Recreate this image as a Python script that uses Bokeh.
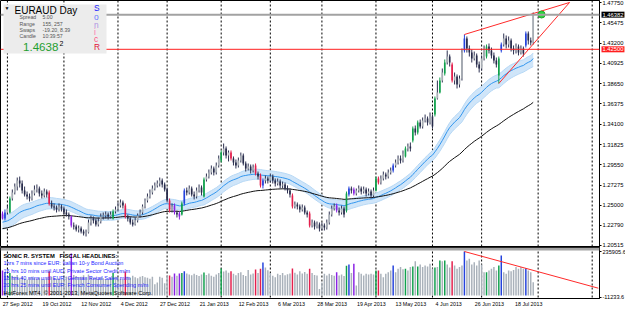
import pandas as pd
from bokeh.plotting import figure
from bokeh.layouts import column
from bokeh.models import (Range1d, FixedTicker, PrintfTickFormatter, Span, Label,
                          BoxAnnotation)
from bokeh.embed import file_html
from bokeh.resources import INLINE

# ---------------- data (EURAUD daily) ----------------
first_day = "2012-09-27"

open_ = [
    1.2410, 1.2354, 1.2421, 1.2421, 1.2578, 1.2645, 1.2712, 1.2780, 1.2746, 1.2668,
    1.2623, 1.2600, 1.2578, 1.2634, 1.2679, 1.2690, 1.2634, 1.2612, 1.2656, 1.2645,
    1.2522, 1.2488, 1.2477, 1.2455, 1.2488, 1.2466, 1.2421, 1.2398, 1.2376, 1.2275,
    1.2264, 1.2230, 1.2242, 1.2208, 1.2186, 1.2197, 1.2309, 1.2354, 1.2331, 1.2286,
    1.2320, 1.2376, 1.2387, 1.2398, 1.2376, 1.2354, 1.2432, 1.2455, 1.2499, 1.2533,
    1.2499, 1.2376, 1.2354, 1.2309, 1.2286, 1.2331, 1.2387, 1.2421, 1.2488, 1.2555,
    1.2600, 1.2645, 1.2690, 1.2724, 1.2746, 1.2780, 1.2735, 1.2679, 1.2555, 1.2443,
    1.2499, 1.2421, 1.2410, 1.2398, 1.2522, 1.2668, 1.2645, 1.2690, 1.2623, 1.2600,
    1.2668, 1.2701, 1.2600, 1.2791, 1.2824, 1.2869, 1.2914, 1.2869, 1.2948, 1.3004,
    1.3093, 1.3138, 1.3060, 1.3093, 1.3026, 1.2981, 1.2948, 1.3004, 1.3060, 1.2970,
    1.2914, 1.2936, 1.2892, 1.2948, 1.2858, 1.2836, 1.2724, 1.2780, 1.2802, 1.2780,
    1.2824, 1.2780, 1.2746, 1.2768, 1.2724, 1.2735, 1.2690, 1.2668, 1.2612, 1.2488,
    1.2511, 1.2488, 1.2455, 1.2477, 1.2421, 1.2410, 1.2275, 1.2309, 1.2264, 1.2286,
    1.2242, 1.2275, 1.2253, 1.2309, 1.2398, 1.2466, 1.2499, 1.2443, 1.2421, 1.2466,
    1.2443, 1.2623, 1.2690, 1.2679, 1.2634, 1.2668, 1.2690, 1.2656, 1.2679, 1.2634,
    1.2656, 1.2612, 1.2668, 1.2802, 1.2757, 1.2802, 1.2847, 1.2824, 1.2869, 1.2892,
    1.2948, 1.2981, 1.3026, 1.3004, 1.3049, 1.3138, 1.3161, 1.3228, 1.3362, 1.3318,
    1.3430, 1.3385, 1.3452, 1.3474, 1.3430, 1.3497, 1.3519, 1.3699, 1.3766, 1.3900,
    1.3979, 1.4102, 1.4169, 1.4080, 1.3900, 1.3945, 1.3856, 1.3923, 1.4237, 1.4371,
    1.4259, 1.4214, 1.4147, 1.4181, 1.4080, 1.4035, 1.4147, 1.4169, 1.4281, 1.4237,
    1.4181, 1.4125, 1.3956, 1.4237, 1.4304, 1.4371, 1.4304, 1.4349, 1.4259, 1.4237,
    1.4281, 1.4214, 1.4259, 1.4293, 1.4427, 1.4349, 1.4326,
]
high = [
    1.2432, 1.2455, 1.2499, 1.2600, 1.2679, 1.2746, 1.2813, 1.2824, 1.2780, 1.2712,
    1.2656, 1.2634, 1.2668, 1.2724, 1.2735, 1.2712, 1.2668, 1.2690, 1.2679, 1.2668,
    1.2555, 1.2522, 1.2499, 1.2522, 1.2511, 1.2488, 1.2455, 1.2421, 1.2387, 1.2309,
    1.2286, 1.2275, 1.2264, 1.2230, 1.2230, 1.2342, 1.2387, 1.2376, 1.2354, 1.2365,
    1.2410, 1.2421, 1.2432, 1.2421, 1.2432, 1.2455, 1.2488, 1.2533, 1.2567, 1.2555,
    1.2522, 1.2398, 1.2376, 1.2342, 1.2365, 1.2410, 1.2455, 1.2511, 1.2578, 1.2634,
    1.2679, 1.2724, 1.2757, 1.2780, 1.2813, 1.2802, 1.2757, 1.2701, 1.2578, 1.2522,
    1.2522, 1.2443, 1.2432, 1.2544, 1.2690, 1.2701, 1.2724, 1.2712, 1.2656, 1.2701,
    1.2735, 1.2724, 1.2813, 1.2858, 1.2903, 1.2948, 1.2936, 1.2981, 1.3060, 1.3116,
    1.3194, 1.3161, 1.3116, 1.3116, 1.3049, 1.3015, 1.3037, 1.3093, 1.3082, 1.2993,
    1.2970, 1.2959, 1.2959, 1.2970, 1.2880, 1.2858, 1.2802, 1.2836, 1.2824, 1.2858,
    1.2847, 1.2802, 1.2802, 1.2791, 1.2768, 1.2757, 1.2724, 1.2690, 1.2634, 1.2544,
    1.2533, 1.2511, 1.2511, 1.2499, 1.2443, 1.2432, 1.2342, 1.2331, 1.2320, 1.2309,
    1.2309, 1.2298, 1.2342, 1.2432, 1.2499, 1.2522, 1.2522, 1.2477, 1.2499, 1.2488,
    1.2656, 1.2712, 1.2712, 1.2701, 1.2690, 1.2724, 1.2712, 1.2712, 1.2701, 1.2690,
    1.2679, 1.2701, 1.2824, 1.2824, 1.2836, 1.2880, 1.2869, 1.2903, 1.2925, 1.2970,
    1.3015, 1.3060, 1.3060, 1.3116, 1.3161, 1.3194, 1.3206, 1.3385, 1.3396, 1.3452,
    1.3463, 1.3486, 1.3519, 1.3497, 1.3542, 1.3519, 1.3721, 1.3900, 1.3934, 1.4035,
    1.4136, 1.4237, 1.4192, 1.4102, 1.3990, 1.3968, 1.3956, 1.4259, 1.4416, 1.4394,
    1.4293, 1.4248, 1.4225, 1.4203, 1.4113, 1.4181, 1.4293, 1.4304, 1.4315, 1.4270,
    1.4214, 1.4158, 1.4169, 1.4326, 1.4427, 1.4405, 1.4394, 1.4371, 1.4293, 1.4315,
    1.4304, 1.4293, 1.4281, 1.4450, 1.4450, 1.4382, 1.4663,
]
low = [
    1.2342, 1.2331, 1.2398, 1.2410, 1.2555, 1.2623, 1.2668, 1.2701, 1.2634, 1.2600,
    1.2567, 1.2544, 1.2555, 1.2612, 1.2645, 1.2600, 1.2578, 1.2589, 1.2589, 1.2499,
    1.2466, 1.2443, 1.2421, 1.2432, 1.2432, 1.2398, 1.2376, 1.2342, 1.2253, 1.2230,
    1.2208, 1.2197, 1.2186, 1.2163, 1.2152, 1.2186, 1.2275, 1.2298, 1.2264, 1.2264,
    1.2298, 1.2342, 1.2354, 1.2342, 1.2354, 1.2342, 1.2410, 1.2432, 1.2477, 1.2466,
    1.2354, 1.2320, 1.2286, 1.2264, 1.2275, 1.2309, 1.2365, 1.2398, 1.2466, 1.2533,
    1.2578, 1.2623, 1.2668, 1.2701, 1.2712, 1.2701, 1.2656, 1.2533, 1.2421, 1.2421,
    1.2398, 1.2365, 1.2342, 1.2387, 1.2499, 1.2612, 1.2623, 1.2600, 1.2567, 1.2578,
    1.2645, 1.2612, 1.2589, 1.2768, 1.2802, 1.2847, 1.2836, 1.2847, 1.2925, 1.2981,
    1.3060, 1.3026, 1.2993, 1.3004, 1.2948, 1.2914, 1.2925, 1.2981, 1.2948, 1.2880,
    1.2892, 1.2858, 1.2869, 1.2836, 1.2791, 1.2701, 1.2690, 1.2746, 1.2746, 1.2757,
    1.2746, 1.2712, 1.2724, 1.2690, 1.2690, 1.2668, 1.2634, 1.2589, 1.2466, 1.2466,
    1.2455, 1.2421, 1.2432, 1.2398, 1.2365, 1.2253, 1.2253, 1.2230, 1.2242, 1.2208,
    1.2219, 1.2219, 1.2230, 1.2286, 1.2376, 1.2443, 1.2421, 1.2387, 1.2398, 1.2365,
    1.2421, 1.2600, 1.2634, 1.2612, 1.2612, 1.2645, 1.2623, 1.2634, 1.2600, 1.2612,
    1.2578, 1.2589, 1.2656, 1.2735, 1.2735, 1.2780, 1.2791, 1.2802, 1.2847, 1.2869,
    1.2925, 1.2959, 1.2970, 1.2981, 1.3037, 1.3105, 1.3105, 1.3206, 1.3284, 1.3295,
    1.3362, 1.3362, 1.3430, 1.3396, 1.3407, 1.3362, 1.3497, 1.3687, 1.3755, 1.3878,
    1.3956, 1.4080, 1.4057, 1.3878, 1.3856, 1.3811, 1.3822, 1.3900, 1.4214, 1.4214,
    1.4169, 1.4102, 1.4125, 1.4046, 1.3990, 1.4012, 1.4125, 1.4147, 1.4203, 1.4147,
    1.4091, 1.4046, 1.3867, 1.4214, 1.4281, 1.4259, 1.4270, 1.4225, 1.4192, 1.4203,
    1.4181, 1.4192, 1.4169, 1.4270, 1.4304, 1.4293, 1.4304,
]
close = [
    1.2354, 1.2421, 1.2466, 1.2578, 1.2645, 1.2712, 1.2780, 1.2746, 1.2668, 1.2623,
    1.2600, 1.2578, 1.2634, 1.2679, 1.2690, 1.2634, 1.2612, 1.2656, 1.2623, 1.2522,
    1.2488, 1.2477, 1.2455, 1.2488, 1.2466, 1.2421, 1.2398, 1.2376, 1.2275, 1.2264,
    1.2230, 1.2242, 1.2208, 1.2186, 1.2197, 1.2309, 1.2354, 1.2331, 1.2286, 1.2320,
    1.2376, 1.2387, 1.2398, 1.2376, 1.2398, 1.2432, 1.2455, 1.2499, 1.2533, 1.2499,
    1.2376, 1.2354, 1.2309, 1.2286, 1.2331, 1.2387, 1.2421, 1.2488, 1.2555, 1.2600,
    1.2645, 1.2690, 1.2724, 1.2746, 1.2780, 1.2735, 1.2679, 1.2555, 1.2443, 1.2488,
    1.2421, 1.2398, 1.2376, 1.2522, 1.2668, 1.2645, 1.2690, 1.2623, 1.2600, 1.2668,
    1.2701, 1.2645, 1.2791, 1.2824, 1.2869, 1.2914, 1.2869, 1.2948, 1.3026, 1.3093,
    1.3138, 1.3060, 1.3093, 1.3026, 1.2981, 1.2948, 1.3004, 1.3060, 1.2970, 1.2914,
    1.2936, 1.2892, 1.2925, 1.2858, 1.2824, 1.2724, 1.2780, 1.2802, 1.2780, 1.2824,
    1.2780, 1.2746, 1.2768, 1.2724, 1.2735, 1.2690, 1.2668, 1.2623, 1.2488, 1.2511,
    1.2488, 1.2455, 1.2477, 1.2421, 1.2398, 1.2275, 1.2309, 1.2264, 1.2286, 1.2242,
    1.2275, 1.2253, 1.2309, 1.2398, 1.2466, 1.2488, 1.2443, 1.2421, 1.2466, 1.2398,
    1.2634, 1.2690, 1.2668, 1.2634, 1.2668, 1.2690, 1.2656, 1.2679, 1.2634, 1.2656,
    1.2612, 1.2668, 1.2802, 1.2757, 1.2802, 1.2847, 1.2824, 1.2869, 1.2892, 1.2948,
    1.2981, 1.3026, 1.3004, 1.3082, 1.3138, 1.3161, 1.3138, 1.3362, 1.3318, 1.3430,
    1.3385, 1.3452, 1.3474, 1.3430, 1.3497, 1.3385, 1.3699, 1.3766, 1.3900, 1.3990,
    1.4102, 1.4169, 1.4102, 1.3900, 1.3945, 1.3856, 1.3923, 1.4214, 1.4371, 1.4259,
    1.4214, 1.4147, 1.4181, 1.4080, 1.4035, 1.4147, 1.4259, 1.4281, 1.4237, 1.4181,
    1.4125, 1.4080, 1.4147, 1.4304, 1.4371, 1.4304, 1.4349, 1.4259, 1.4237, 1.4281,
    1.4214, 1.4259, 1.4203, 1.4427, 1.4349, 1.4326, 1.46382,
]
# indicator-window histogram (thousands)
volume_k = [
    134, 125, 95, 120, 105, 100, 110, 95, 100, 90,
    85, 95, 100, 92, 88, 96, 90, 85, 92, 130,
    100, 95, 88, 92, 85, 98, 102, 96, 225, 110,
    104, 96, 100, 108, 95, 112, 100, 90, 94, 88,
    98, 92, 86, 90, 95, 120, 100, 96, 90, 85,
    128, 100, 95, 105, 98, 92, 100, 104, 98, 95,
    90, 100, 60, 70, 100, 95, 65, 105, 107, 100,
    118, 105, 118, 120, 130, 118, 112, 108, 116, 110,
    104, 112, 123, 110, 118, 105, 100, 112, 120, 145,
    128, 134, 122, 130, 116, 108, 120, 125, 110, 104,
    137, 112, 118, 139, 120, 143, 177, 150, 135, 120,
    105, 98, 116, 110, 120, 108, 114, 118, 145, 122,
    112, 130, 118, 126, 116, 143, 120, 110, 107, 35,
    70, 116, 107, 116, 110, 105, 125, 107, 112, 104,
    160, 166, 120, 170, 53, 125, 116, 107, 116, 112,
    116, 112, 134, 134, 116, 98, 116, 125, 134, 161,
    125, 143, 152, 140, 143, 134, 152, 155, 184, 155,
    166, 152, 161, 155, 170, 145, 150, 152, 188, 184,
    188, 166, 150, 184, 161, 143, 152, 161, 235.9056, 188,
    197, 166, 178, 161, 188, 166, 125, 125, 134, 143,
    152, 134, 161, 214, 125, 116, 134, 130, 137, 152,
    143, 152, 143, 146, 134, 125, 71,
]
# volume-spread colour class of marked bars (g climax up, r climax down, b/m rising volume)
vsa = {0: "m", 1: "b", 3: "g", 19: "r", 28: "m", 45: "g", 50: "r", 68: "r", 70: "m",
       72: "m", 73: "g", 74: "b", 82: "g", 89: "g", 93: "r", 103: "r", 105: "r",
       106: "b", 118: "r", 125: "r", 136: "m", 140: "g", 141: "b", 143: "m",
       152: "g", 153: "r", 159: "b", 164: "g", 167: "g", 169: "g", 176: "g",
       178: "g", 180: "g", 183: "r", 188: "b", 197: "g", 202: "g", 203: "b", 213: "b"}

y_ticks = [1.47750, 1.45475, 1.43200, 1.40925, 1.38650, 1.36375, 1.34100,
           1.31825, 1.29550, 1.27275, 1.25000, 1.22790, 1.20515]
vol_ticks = [235905.6, -11233.6]
bid_price = 1.46382
alert_price = 1.42500
ema34_seed = {"high": 1.2385, "close": 1.2310, "low": 1.2228}
ema89_seed = 1.2238
resistance_x, resistance_y = [188, 230.8], [1.4416, 1.4775]
support_x, support_y = [202, 230.8], [1.3867, 1.4775]
alert_dot_x, alert_dot_y = [219.4], [1.4640]
vol_trend_x, vol_trend_y = [188, 242.5], [235905.6, 38700]
headlines = ["1hrs 7 mins since EUR: Italian 10-y Bond Auction",
             "15 hrs 10 mins until AUD: Private Sector Credit m/m",
             "18 hrs 40 mins until EUR: German Retail Sales m/m",
             "20 hrs 25 mins until EUR: French Consumer Spending m/m"]

# ---------------- geometry helpers (pixel layout -> data coords) ----------------
BAR0_PX, BAR_PX = 2.0, 2.457
FRAME_W, MAIN_H, VOL_H = 599, 247, 51
FONT = "Liberation Sans"


def px2i(x):
    return (x - BAR0_PX) / BAR_PX


def py2p(y):
    return 1.4797 - 0.0011208 * y


def py2v(y):
    return 235905.6 - (y - 251) * 5373.0


n = min(map(len, [open_, high, low, close, volume_k]))
idx = list(range(n))
days = [d for d in pd.bdate_range(first_day, periods=320)
        if not ((d.month == 12 and d.day == 25) or (d.month == 1 and d.day == 1))]


def ema(vals, period, seed):
    a = 2.0 / (period + 1)
    out, prev = [], seed
    for v in vals[:n]:
        prev = a * v + (1 - a) * prev
        out.append(prev)
    return out


e_hi = ema(high, 34, ema34_seed["high"])
e_cl = ema(close, 34, ema34_seed["close"])
e_lo = ema(low, 34, ema34_seed["low"])
e_89 = ema(close, 89, ema89_seed)

VSA_COL = {"g": "#10a04c", "r": "#e41e4c", "b": "#2442dc", "m": "#8a22e4"}
BULL_BODY, BEAR_BODY, WICK, VOL_GRAY = "#a9afb5", "#272b4a", "#2e3252", "#a9b1ba"
body_col, wick_col, vol_col = [], [], []
for i in idx:
    code = vsa.get(i)
    if code:
        body_col.append(VSA_COL[code]); wick_col.append(VSA_COL[code]); vol_col.append(VSA_COL[code])
    else:
        body_col.append(BULL_BODY if close[i] >= open_[i] else BEAR_BODY)
        wick_col.append(WICK); vol_col.append(VOL_GRAY)
b_top = [max(open_[i], close[i]) for i in idx]
b_bot = [min(open_[i], close[i]) for i in idx]
b_bot = [b if t - b > 0.0004 else t - 0.0004 for t, b in zip(b_top, b_bot)]

xr = Range1d(px2i(0), px2i(FRAME_W))
month_starts = [i for i in range(1, len(days)) if days[i].month != days[i - 1].month
                and px2i(0) < i < px2i(FRAME_W)]


def style_common(fig):
    fig.grid.visible = False
    fig.outline_line_color = "black"
    fig.background_fill_color = "white"
    fig.border_fill_color = "white"
    for i in month_starts:
        fig.add_layout(Span(location=i, dimension="height", line_color="black",
                            line_dash="2 2", line_width=1, level="underlay"))


def style_yaxis(ax, ticks, fmt, size):
    ax.ticker = FixedTicker(ticks=ticks)
    ax.formatter = PrintfTickFormatter(format=fmt)
    ax.major_label_text_font = FONT
    ax.major_label_text_font_size = size
    ax.major_label_text_color = "black"
    ax.major_tick_out = 2
    ax.major_tick_in = 0
    ax.minor_tick_out = 0
    ax.minor_tick_in = 0
    ax.major_label_standoff = 1
    ax.axis_line_color = "black"
    ax.major_tick_line_color = "black"


def lab(fig, x, y, text, size, color="black", bold=False, conv=py2p, **kw):
    fig.add_layout(Label(x=px2i(x), y=conv(y), text=text, text_font=FONT,
                         text_font_size=f"{size}px", text_color=color,
                         text_font_style="bold" if bold else "normal",
                         text_baseline="middle", text_align="left", level="overlay", **kw))


# ---------------- main price panel ----------------
main = figure(frame_width=FRAME_W, frame_height=MAIN_H, x_range=xr,
              y_range=Range1d(py2p(MAIN_H), py2p(0)),
              y_axis_location="right", x_axis_location=None,
              toolbar_location=None, output_backend="svg",
              min_border_left=0, min_border_top=0, min_border_bottom=0, min_border_right=0)
style_common(main)
style_yaxis(main.yaxis[0], y_ticks, "%.5f", "5.8px")

main.varea(x=idx, y1=e_lo, y2=e_hi, fill_color="#cfe5f9", fill_alpha=1)
main.line(idx, e_hi, line_color="#b7d8f5", line_width=1)
main.line(idx, e_lo, line_color="#b7d8f5", line_width=1)
main.line(idx, e_cl, line_color="#3296ee", line_width=1)
main.line(idx, e_89, line_color="#111111", line_width=1)

main.segment(x0=idx, y0=low[:n], x1=idx, y1=high[:n], line_color=wick_col, line_width=1)
main.vbar(x=idx, width=0.66, top=b_top, bottom=b_bot, fill_color=body_col, line_color=None)

main.add_layout(Span(location=bid_price, dimension="width", line_color="#a2a2a2", line_width=2))
main.add_layout(Span(location=alert_price, dimension="width", line_color="#ff1f1f", line_width=1))
main.line(resistance_x, resistance_y, line_color="#ff2a2a", line_width=1)
main.line(support_x, support_y, line_color="#ff2a2a", line_width=1)
main.scatter(alert_dot_x, alert_dot_y, size=7, marker="circle", fill_color="#2fd43f",
             line_color="#1ea82c")

# price tags on the scale (side panel so they are not clipped to the frame)
tag_extra = {"padding": 1} if "padding" in Label.properties() else {}
for price, bg in [(bid_price, "black"), (alert_price, "#ff1f1f")]:
    main.add_layout(Label(x=px2i(601), y=price, text=f"{price:.5f}", text_font=FONT,
                          text_font_size="5.8px", text_color="white", background_fill_color=bg,
                          text_baseline="middle", text_align="left", **tag_extra), "right")

# info box
main.add_layout(BoxAnnotation(left=px2i(3), right=px2i(106), top=py2p(4), bottom=py2p(53),
                              fill_color="#ececec", fill_alpha=1, line_color=None, level="overlay"))
lab(main, 4, 7, "\u25bc", 5)
lab(main, 14, 9.5, "EURAUD", 10)
lab(main, 59, 9.5, "Day", 10)
for yy, k, v in [(16.5, "Spread", "5.00"), (23, "Range", "155, 257"),
                 (29.5, "Swaps", "-19.20, 8.39"), (35.5, "Candle", "10:39:57")]:
    lab(main, 19, yy, k, 5.2, "#555555")
    lab(main, 42, yy, v, 5.2, "#555555")
lab(main, 22.5, 46, "1.4638", 11.6, "#1f9f2f")
lab(main, 59, 43, "2", 7)
for yy, ch, col in [(7.5, "S", "#1a1aff"), (16, "o", "#6a7aff"), (24.5, "n", "#b092e2"),
                    (31.5, "i", "#ff70b0"), (38, "c", "#ff5084"), (46.5, "R", "#e0103a")]:
    lab(main, 93.5, yy, ch, 8.4, col)

# ---------------- indicator panel ----------------
vol = figure(frame_width=FRAME_W, frame_height=VOL_H, x_range=xr,
             y_range=Range1d(py2v(MAIN_H + VOL_H), py2v(MAIN_H)),
             y_axis_location="right", toolbar_location=None, output_backend="svg",
             min_border_left=0, min_border_top=0, min_border_bottom=0, min_border_right=0)
style_common(vol)
style_yaxis(vol.yaxis[0], vol_ticks, "%.1f", "5.6px")

vol.vbar(x=idx, width=0.6, top=[v * 1000 for v in volume_k[:n]], bottom=0,
         fill_color=vol_col, line_color=None)
vol.line(vol_trend_x, vol_trend_y, line_color="#ff2a2a", line_width=1)
vol.add_layout(BoxAnnotation(top=py2v(MAIN_H), bottom=py2v(MAIN_H + 3), fill_color="#a4a4a4",
                             fill_alpha=1, line_color=None, level="overlay"))

DATE_FS = 5.3
tick_pos, overrides = [], {}
for i in range(0, n, 16):
    txt = f"{days[i].day} {days[i].strftime('%b %Y')}"
    pos = round(i + len(txt) * 0.52 * DATE_FS / 2 / BAR_PX, 3)
    tick_pos.append(pos)
    overrides[pos] = txt
xa = vol.xaxis[0]
xa.ticker = FixedTicker(ticks=tick_pos)
xa.major_label_overrides = overrides
xa.major_label_text_font = FONT
xa.major_label_text_font_size = f"{DATE_FS}px"
xa.major_label_text_color = "black"
xa.major_tick_out = 0
xa.major_tick_in = 0
xa.minor_tick_out = 0
xa.minor_tick_in = 0
xa.major_label_standoff = 2
xa.axis_line_color = "black"

lab(vol, 3, 255, "SONIC R. SYSTEM", 5.8, bold=True, conv=py2v)
lab(vol, 59, 255, "FISCAL HEADLINES:", 5.8, bold=True, conv=py2v)
for yy, t in zip([262.5, 270, 277.3, 284.3], headlines):
    lab(vol, 3, yy, t, 5.5, "#1e1eff", conv=py2v)
lab(vol, 3, 292.5, "HotForex MT4, \u00a9 2001-2013, MetaQuotes Software Corp.", 5.8, conv=py2v)

layout = column(main, vol, spacing=0)
html = file_html(layout, INLINE, title="EURAUD Day")
html = html.replace("<head>", "<head><style>html,body{margin:0;padding:0;overflow:hidden;}</style>", 1)
open("out.html", "w").write(html)
